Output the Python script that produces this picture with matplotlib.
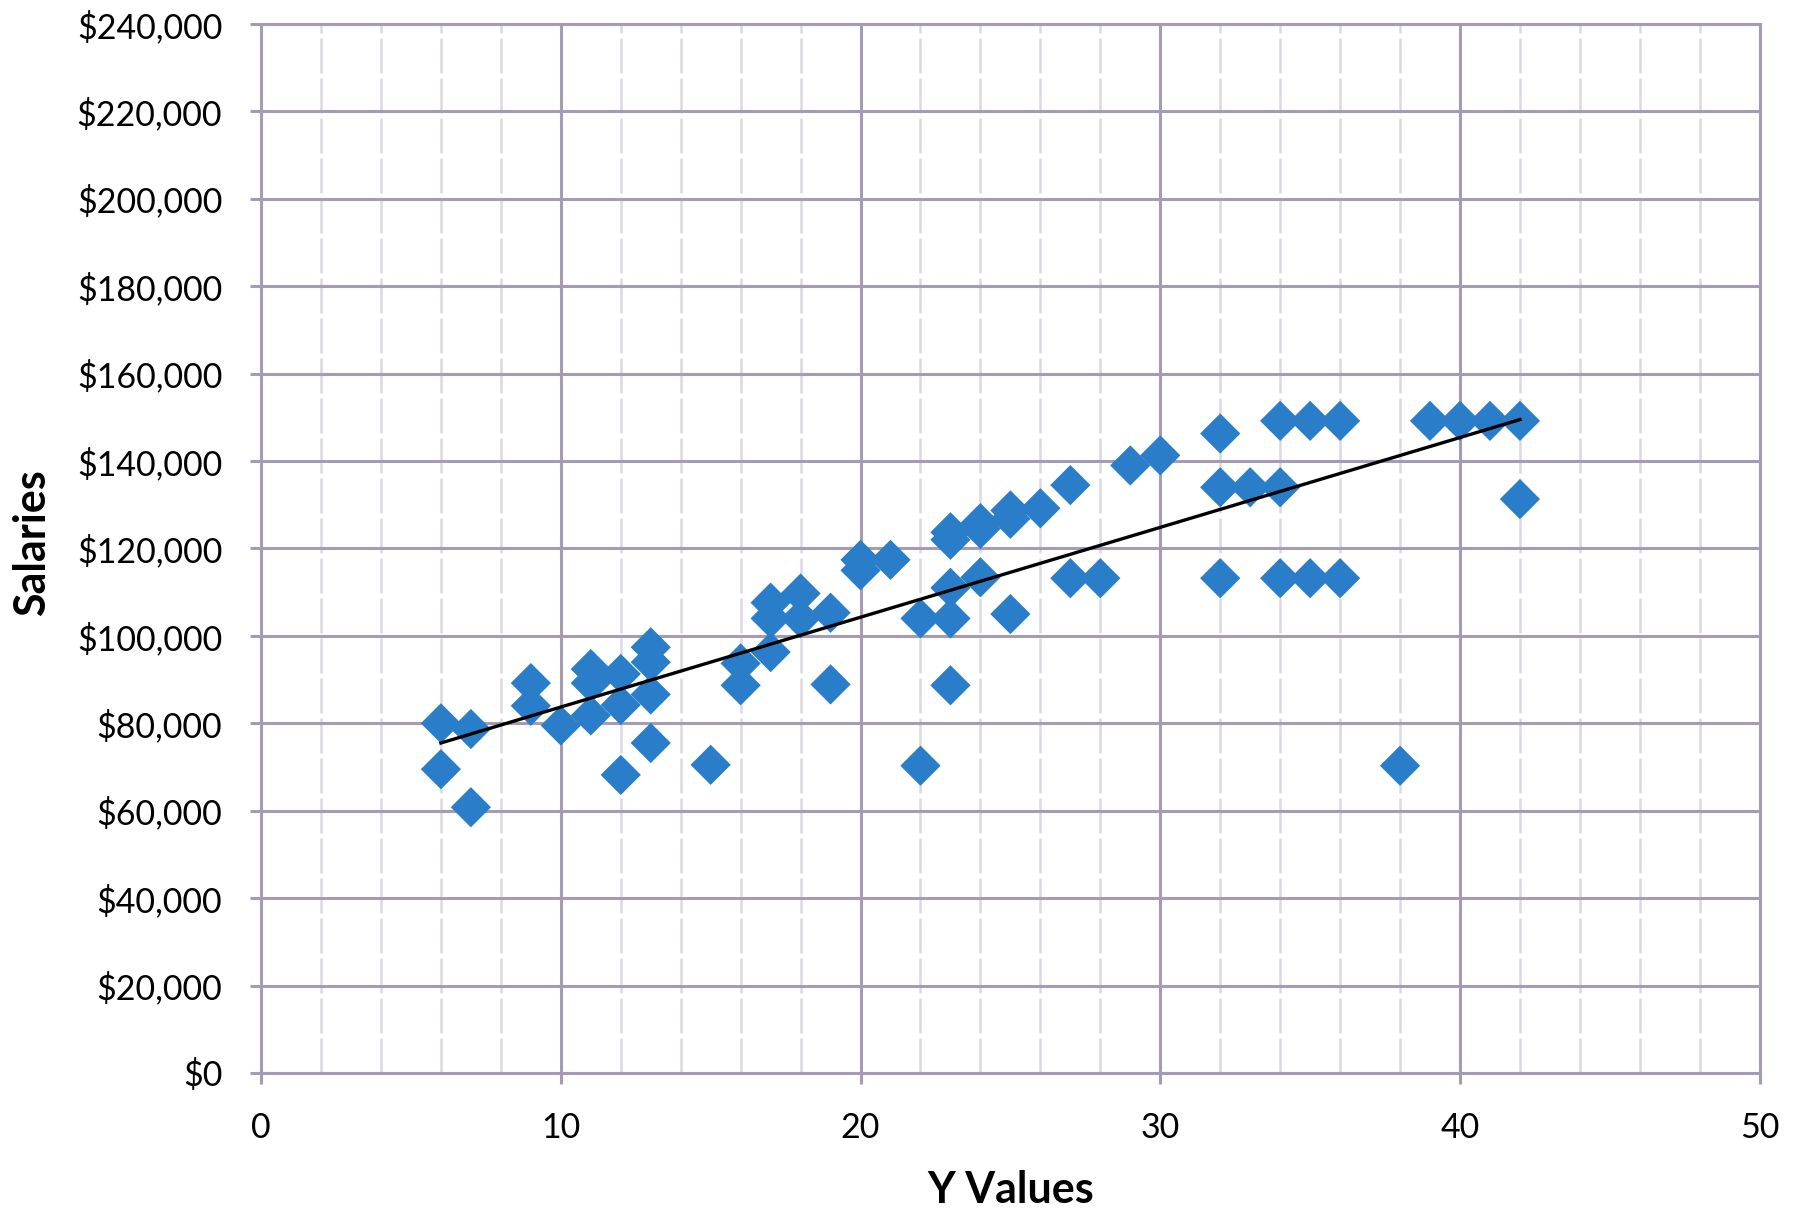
import matplotlib.pyplot as plt
import numpy as np
from matplotlib.ticker import MultipleLocator, StrMethodFormatter

plt.rcParams['font.family'] = ['Lato', 'DejaVu Sans']

# years (x) and salaries (y)
years = [6, 6, 7, 7, 9, 9, 10, 11, 11, 11, 12, 12, 12, 13, 13, 13, 13, 15,
         16, 16, 17, 17, 17, 18, 18, 19, 19, 20, 20, 21, 22, 22,
         23, 23, 23, 23, 23, 24, 24, 24, 25, 25, 25, 26, 27, 27, 28, 29, 30,
         32, 32, 32, 33, 34, 34, 34, 35, 35, 36, 36, 38, 39, 40, 41, 42, 42]
salaries = [80000, 69500, 78700, 60800, 89200, 84000, 79500, 92400, 89200, 81800,
            91300, 84200, 68200, 97400, 94000, 86600, 75500, 70500,
            93700, 88700, 107600, 104000, 96300, 109700, 104000, 105300, 88900,
            117400, 115000, 117400, 104000, 70300,
            123700, 122000, 111000, 104000, 88700, 125800, 124500, 113400,
            128700, 126800, 105000, 129200, 134500, 113200, 113200, 139000, 141300,
            146300, 134000, 113200, 134000, 149200, 134000, 113200, 149200, 113200,
            149200, 113200, 70300, 149200, 149200, 149200, 149200, 131300]

# linear trendline as drawn in the chart (end points)
trend_x = [6, 42]
trend_y = [75500, 149500]

fig = plt.figure(figsize=(18.03, 12.12), dpi=100)
ax = fig.add_axes([0.1448, 0.1147, 0.8312, 0.8655])

major_c = '#a59cb3'
minor_c = '#dcd8e2'

ax.set_xlim(0, 50)
ax.set_ylim(0, 240000)
ax.xaxis.set_major_locator(MultipleLocator(10))
ax.xaxis.set_minor_locator(MultipleLocator(2))
ax.yaxis.set_major_locator(MultipleLocator(20000))
ax.yaxis.set_major_formatter(StrMethodFormatter('${x:,.0f}'))

ax.grid(True, which='major', color=major_c, linewidth=2.2)
ax.grid(True, which='minor', axis='x', color=minor_c, linewidth=1.8, linestyle=(0, (14, 2)))
ax.set_axisbelow(True)

for s in ax.spines.values():
    s.set_color(major_c)
    s.set_linewidth(2.2)

ax.tick_params(axis='both', which='major', length=8, width=2.2, color=major_c,
               labelsize=24.5, pad=20)
ax.tick_params(axis='x', which='minor', length=0)

ax.scatter(years, salaries, marker='D', s=420, color='#2a7dc9', edgecolors='none', zorder=3)
ax.plot(trend_x, trend_y, color='black', linewidth=2.4, zorder=4)

fig.text(0.018, 0.552, 'Salaries', fontsize=31, fontweight='bold',
         rotation=90, ha='center', va='center')
fig.text(0.5605, 0.018, 'Y Values', fontsize=31, fontweight='bold',
         ha='center', va='center')

fig.savefig('out.png', dpi=100)
